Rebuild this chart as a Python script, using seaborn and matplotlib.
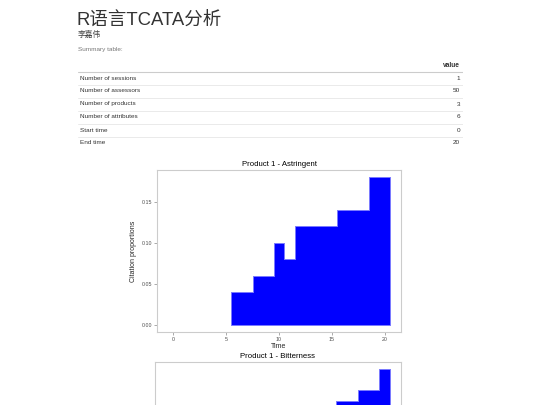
import matplotlib
matplotlib.use("Agg")
import matplotlib.pyplot as plt
import seaborn as sns
import pandas as pd

# page text
title = "R语言TCATA分析"
author = "李嘉伟"
table_caption = "Summary table:"

# summary table
row_labels = ["Number of sessions", "Number of assessors", "Number of products",
              "Number of attributes", "Start time", "End time"]
row_values = [1, 50, 3, 6, 0, 20]

# Product 1 - Astringent citation proportions
astr_time = [6, 7, 8, 9, 10, 11, 12, 13, 14, 15, 16, 17, 18, 19, 20]
astr_prop = [0.04, 0.04, 0.06, 0.06, 0.10, 0.08, 0.12, 0.12, 0.12, 0.12,
             0.14, 0.14, 0.14, 0.18, 0.18]

# Product 1 - Bitterness (only the top part is visible)
bitt_time = [16, 17, 18, 19, 20]
bitt_prop = [0.22, 0.22, 0.24, 0.24, 0.28]

sns.set_theme(style="white")
plt.rcParams['font.family'] = ['Liberation Sans', 'Noto Sans CJK SC', 'DejaVu Sans']

W, H = 540, 405
fig = plt.figure(figsize=(5.4, 4.05), dpi=100)
fig.patch.set_facecolor("white")


def fx(px):
    return px / W


def fy(py):
    return 1 - py / H


fig.text(fx(77), fy(25), title, fontsize=13.3, color="#333333", ha="left", va="baseline")
fig.text(fx(78), fy(37), author, fontsize=5.6, color="#444444", ha="left", va="baseline")
fig.text(fx(78), fy(51.5), table_caption, fontsize=4.6, color="#777777", ha="left", va="baseline")

# table drawn in its own axes, pixel coordinates
tax = fig.add_axes([fx(78), fy(150), fx(463) - fx(78), fy(55) - fy(150)])
tax.set_xlim(78, 463)
tax.set_ylim(150, 55)
tax.axis("off")
tax.text(460, 65.5, "value", fontsize=4.8, fontweight="bold", color="#333333",
         ha="right", va="center")
tax.axhline(71.5, color="#cccccc", lw=0.8)
for i, (lab, val) in enumerate(zip(row_labels, row_values)):
    yc = 78 + i * 13
    tax.text(80, yc, lab, fontsize=4.6, color="#333333", ha="left", va="center")
    tax.text(460, yc, str(val), fontsize=4.6, color="#333333", ha="right", va="center")
    if i < len(row_labels) - 1:
        tax.axhline(yc + 6.5, color="#e6e6e6", lw=0.6)


def tcata_panel(ax, times, props, ttl, ymax, ticks, labels=True):
    df = pd.DataFrame({"time": times, "prop": props})
    sns.histplot(data=df, x="time", weights="prop", binwidth=1,
                 binrange=(min(times) - 0.5, 20.5),
                 element="step", fill=True, color="blue", alpha=1,
                 edgecolor="#7a7aff", linewidth=0.7, ax=ax)
    ax.set_xlim(-1.55, 21.55)
    ax.set_ylim(-0.05 * ymax, 1.05 * ymax)
    for s in ax.spines.values():
        s.set_color("#cccccc")
        s.set_linewidth(0.8)
    ax.set_title(ttl, fontsize=5.6, color="black", pad=3)
    ax.grid(False)
    if not labels:
        # lower part of this panel is below the page edge
        ax.set_xticks([])
        ax.set_yticks([])
        ax.set_xlabel("")
        ax.set_ylabel("")
        return
    ax.set_xticks([0, 5, 10, 15, 20])
    ax.set_yticks(ticks)
    ax.set_yticklabels([f"{t:.2f}" for t in ticks])
    ax.tick_params(axis="both", labelsize=3.8, labelcolor="#4d4d4d", color="#888888",
                   length=2, width=0.5, pad=1.5, left=True, bottom=True)
    ax.set_xlabel("Time", fontsize=5, labelpad=1)
    ax.set_ylabel("Citation proportions", fontsize=5, labelpad=3)


ax1 = fig.add_axes([fx(157), fy(332), fx(401) - fx(157), 162 / H])
tcata_panel(ax1, astr_time, astr_prop, "Product 1 - Astringent", 0.18, [0, 0.05, 0.10, 0.15])

ax2 = fig.add_axes([fx(154.5), fy(524), fx(401) - fx(154.5), 162 / H])
tcata_panel(ax2, bitt_time, bitt_prop, "Product 1 - Bitterness", 0.28, [], labels=False)

fig.savefig("out.png", dpi=100, facecolor="white")
